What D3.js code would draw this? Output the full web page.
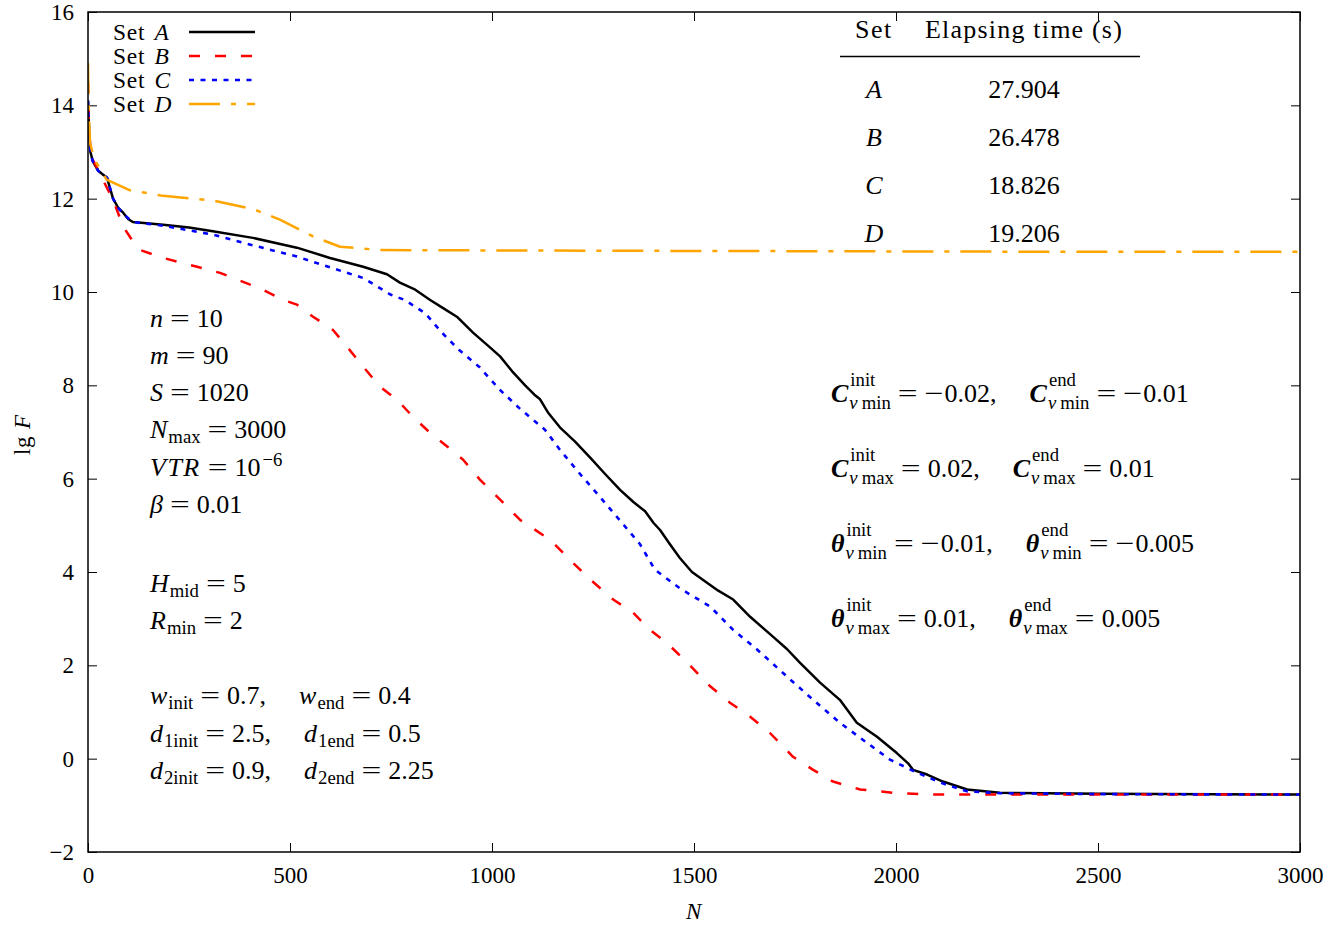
<!DOCTYPE html>
<html>
<head>
<meta charset="utf-8">
<script src="https://cdn.jsdelivr.net/npm/d3@7/dist/d3.min.js"></script>
<style>
  body { margin: 0; background: #fff; }
  text { font-family: "Liberation Serif", "DejaVu Serif", serif; fill: #000; white-space: pre; }
</style>
</head>
<body>
<div id="chart"></div>
<script>
// Series values: [N, lg F]
const setA = [[0,14.1],[3,13.4],[6,13.0],[12,12.8],[25,12.6],[47,12.45],[62,12.0],[75,11.8],[87,11.7],[100,11.56],[111,11.5],
  [186,11.44],[250,11.38],[309,11.3],[408,11.16],[517,10.95],[599,10.73],[681,10.54],[740,10.38],[772,10.2],[810,10.05],
  [847,9.83],[880,9.65],[913,9.47],[953,9.13],[990,8.85],[1020,8.62],[1050,8.3],[1082,8.0],[1105,7.8],[1119,7.7],[1140,7.4],
  [1168,7.1],[1205,6.8],[1243,6.45],[1280,6.1],[1317,5.76],[1350,5.5],[1379,5.3],[1400,5.05],[1416,4.9],[1440,4.6],[1465,4.3],
  [1495,4.0],[1527,3.8],[1560,3.6],[1597,3.41],[1639,3.04],[1696,2.61],[1730,2.35],[1762,2.06],[1812,1.63],[1861,1.26],
  [1903,0.77],[1953,0.47],[2002,0.12],[2030,-0.1],[2042,-0.24],[2077,-0.34],[2116,-0.49],[2176,-0.66],[2257,-0.73],
  [2505,-0.75],[3000,-0.77]];
const setB = [[0,14.5],[2,13.6],[5,13.2],[8,12.9],[20,12.7],[37,12.4],[62,11.98],[87,11.4],[120,10.97],[129,10.9],[186,10.73],
  [270,10.54],[327,10.41],[433,10.05],[483,9.83],[517,9.73],[557,9.47],[606,9.19],[641,8.83],[681,8.4],[723,7.97],[765,7.69],
  [804,7.33],[847,6.98],[889,6.69],[928,6.41],[970,5.98],[1020,5.55],[1069,5.12],[1144,4.69],[1193,4.26],[1243,3.84],
  [1300,3.41],[1349,3.13],[1391,2.76],[1433,2.48],[1483,2.06],[1540,1.55],[1589,1.2],[1639,0.9],[1688,0.55],[1745,0.04],
  [1795,-0.24],[1844,-0.49],[1911,-0.66],[1993,-0.73],[2092,-0.77],[3000,-0.77]];
const setC = [[0,14.1],[3,13.3],[7,12.95],[12,12.8],[25,12.6],[47,12.45],[62,12.0],[75,11.8],[90,11.65],[111,11.5],[186,11.42],
  [309,11.23],[408,11.0],[517,10.76],[616,10.48],[681,10.3],[750,9.94],[784,9.83],[834,9.55],[876,9.13],[918,8.76],[968,8.4],
  [1020,7.9],[1069,7.5],[1131,7.05],[1168,6.62],[1218,6.1],[1268,5.6],[1317,5.1],[1366,4.6],[1403,4.05],[1465,3.65],
  [1540,3.26],[1597,2.76],[1656,2.34],[1730,1.76],[1795,1.26],[1861,0.77],[1928,0.34],[1985,-0.02],[2052,-0.3],[2109,-0.51],
  [2176,-0.7],[2257,-0.74],[2505,-0.76],[3000,-0.77]];
const setD = [[0,14.9],[1,14.2],[3,13.6],[5,13.2],[15,12.85],[46,12.41],[104,12.18],[186,12.06],[309,11.96],[408,11.78],
  [475,11.55],[557,11.19],[624,10.97],[723,10.9],[1000,10.89],[1500,10.88],[2000,10.87],[2500,10.86],[3000,10.86]];

const seriesNames = ["A", "B", "C", "D"];
const seriesData = [setA, setB, setC, setD];
const seriesColors = ["#000000", "#ff0000", "#0000ff", "#ffa500"];
const seriesDash = [null, "11,15", "5,6.5", "31,11,5,11"];
const seriesWidth = [2.5, 2.5, 2.6, 2.5];

const xTicks = [0, 500, 1000, 1500, 2000, 2500, 3000];
const yTicks = [-2, 0, 2, 4, 6, 8, 10, 12, 14, 16];

const tableSets = ["A", "B", "C", "D"];
const tableTimes = ["27.904", "26.478", "18.826", "19.206"];

const W = 1340, H = 926;
const margin = { top: 12, right: 40, bottom: 74, left: 88 };
const width = W - margin.left - margin.right;
const height = H - margin.top - margin.bottom;

const svg = d3.select("#chart").append("svg").attr("width", W).attr("height", H);
const g = svg.append("g").attr("transform", `translate(${margin.left},${margin.top})`);

const x = d3.scaleLinear().domain([0, 3000]).range([0, width]);
const y = d3.scaleLinear().domain([-2, 16]).range([height, 0]);

// Axes, gnuplot style: inward ticks on all four sides
const tickLen = 9;
g.append("g").attr("transform", `translate(0,${height})`)
  .call(d3.axisBottom(x).tickValues(xTicks).tickSize(-tickLen).tickPadding(15).tickFormat(d3.format("d")))
  .call(a => a.select(".domain").remove())
  .selectAll("text").attr("font-size", 23).attr("font-family", null);
g.append("g")
  .call(d3.axisTop(x).tickValues(xTicks).tickSize(-tickLen).tickFormat(""))
  .call(a => a.select(".domain").remove());
g.append("g")
  .call(d3.axisLeft(y).tickValues(yTicks).tickSize(-tickLen).tickPadding(14)
    .tickFormat(d => d < 0 ? "\u2212" + Math.abs(d) : d))
  .call(a => a.select(".domain").remove())
  .selectAll("text").attr("font-size", 23).attr("font-family", null);
g.append("g").attr("transform", `translate(${width},0)`)
  .call(d3.axisRight(y).tickValues(yTicks).tickSize(-tickLen).tickFormat(""))
  .call(a => a.select(".domain").remove());
g.selectAll(".tick line").attr("stroke", "#000").attr("stroke-width", 1);

// Lines
const line = d3.line().x(d => x(d[0])).y(d => y(d[1]));
g.append("defs").append("clipPath").attr("id", "clip")
  .append("rect").attr("width", width).attr("height", height);
seriesData.forEach((data, i) => {
  g.append("path").datum(data)
    .attr("clip-path", "url(#clip)")
    .attr("fill", "none")
    .attr("stroke", seriesColors[i])
    .attr("stroke-width", seriesWidth[i])
    .attr("stroke-dasharray", seriesDash[i])
    .attr("stroke-linejoin", "round")
    .attr("d", line);
});

// Frame
g.append("rect").attr("width", width).attr("height", height)
  .attr("fill", "none").attr("stroke", "#000").attr("stroke-width", 1.5);

// Math-ish text helper: pieces with optional sub/sup, gaps for TeX-like spacing
function mathText(parent, x0, y0, pieces, size) {
  let cx = x0;
  const put = (segs, px, py, fs) => {
    let w = 0;
    segs.forEach(s => {
      if (s.gap) { w += s.gap; return; }
      const sx = s.sx || 1;
      const t = parent.append("text")
        .attr("transform", `translate(${px + w},${py}) scale(${sx},1)`)
        .attr("font-size", fs)
        .attr("font-style", s.i ? "italic" : "normal")
        .attr("font-weight", s.b ? "bold" : "normal")
        .attr("letter-spacing", s.ls || null)
        .text(s.t);
      w += t.node().getComputedTextLength() * sx;
    });
    return w;
  };
  pieces.forEach(p => {
    if (p.gap) { cx += p.gap; return; }
    const w = put([p], cx, y0, size);
    let extra = 0;
    if (p.sub) extra = Math.max(extra, put(p.sub, cx + w + 1, y0 + size * (p.sup ? 0.25 : 0.18), size * 0.72) + 1);
    if (p.sup) extra = Math.max(extra, put(p.sup, cx + w + 2, y0 - size * (p.sub ? 0.62 : 0.4), size * 0.72) + 2);
    cx += w + extra;
  });
  return cx;
}
const R = t => ({ t });
const I = t => ({ t, i: true });
const AS = 26;
// " = value" with TeX relation spacing (wide "=" and minus)
const EQ = v => {
  const out = [{ gap: 7 }, { t: "=", sx: 1.35 }, { gap: 7 }];
  if (v.startsWith("-")) { out.push({ t: "\u2212", sx: 1.3 }, { gap: 1 }); v = v.slice(1); }
  if (v) out.push(R(v));
  return out;
};

// Legend
const legend = svg.append("g");
seriesNames.forEach((name, i) => {
  const ly = 32 + i * 24;
  mathText(legend, 113, ly + 8, [{ t: "Set", ls: 0.8 }, { gap: 9 }, I(name)], 23.5);
  legend.append("line").attr("x1", 189).attr("x2", 255).attr("y1", ly).attr("y2", ly)
    .attr("stroke", seriesColors[i]).attr("stroke-width", seriesWidth[i])
    .attr("stroke-dasharray", seriesDash[i]);
});

// Table of elapsed times
const table = svg.append("g");
table.append("text").attr("x", 855).attr("y", 38).attr("font-size", 26).attr("letter-spacing", 1.5).text("Set");
table.append("text").attr("x", 925).attr("y", 38).attr("font-size", 26).attr("letter-spacing", 1.2).text("Elapsing time (s)");
table.append("line").attr("x1", 840).attr("x2", 1140).attr("y1", 56.5).attr("y2", 56.5)
  .attr("stroke", "#000").attr("stroke-width", 1.3);
tableSets.forEach((s, i) => {
  const by = 98 + i * 48;
  table.append("text").attr("x", 874).attr("y", by).attr("font-size", 26)
    .attr("font-style", "italic").attr("text-anchor", "middle").text(s);
  table.append("text").attr("x", 1024).attr("y", by).attr("font-size", 26)
    .attr("text-anchor", "middle").text(tableTimes[i]);
});

// Left parameter block
const ann = svg.append("g");
const lx = 150;
const sub = t => [{ t }];
const Q = { gap: 33 };
mathText(ann, lx, 327, [I("n"), ...EQ("10")], AS);
mathText(ann, lx, 364, [I("m"), ...EQ("90")], AS);
mathText(ann, lx, 401, [I("S"), ...EQ("1020")], AS);
mathText(ann, lx, 438, [{ t: "N", i: true, sub: sub("max") }, ...EQ("3000")], AS);
mathText(ann, lx, 476, [{ t: "VTR", i: true, ls: 1.5 }, ...EQ(""), { t: "10", sup: sub("\u22126") }], AS);
mathText(ann, lx, 513, [I("\u03b2"), ...EQ("0.01")], AS);
mathText(ann, lx, 592, [{ t: "H", i: true, sub: sub("mid") }, ...EQ("5")], AS);
mathText(ann, lx, 629, [{ t: "R", i: true, sub: sub("min") }, ...EQ("2")], AS);
mathText(ann, lx, 704, [{ t: "w", i: true, sub: sub("init") }, ...EQ("0.7,"), Q,
  { t: "w", i: true, sub: sub("end") }, ...EQ("0.4")], AS);
mathText(ann, lx, 742, [{ t: "d", i: true, sub: sub("1init") }, ...EQ("2.5,"), Q,
  { t: "d", i: true, sub: sub("1end") }, ...EQ("0.5")], AS);
mathText(ann, lx, 779, [{ t: "d", i: true, sub: sub("2init") }, ...EQ("0.9,"), Q,
  { t: "d", i: true, sub: sub("2end") }, ...EQ("2.25")], AS);

// Right parameter block
const rx = 831;
const vsub = w => [{ t: "v", i: true }, { gap: 4 }, { t: w }];
const bold = (t, w, s) => ({ t, i: true, b: true, sub: vsub(w), sup: [{ t: s }] });
mathText(ann, rx, 402, [bold("C", "min", "init"), ...EQ("-0.02,"), Q, bold("C", "min", "end"), ...EQ("-0.01")], AS);
mathText(ann, rx, 477, [bold("C", "max", "init"), ...EQ("0.02,"), Q, bold("C", "max", "end"), ...EQ("0.01")], AS);
mathText(ann, rx, 552, [bold("\u03b8", "min", "init"), ...EQ("-0.01,"), Q, bold("\u03b8", "min", "end"), ...EQ("-0.005")], AS);
mathText(ann, rx, 627, [bold("\u03b8", "max", "init"), ...EQ("0.01,"), Q, bold("\u03b8", "max", "end"), ...EQ("0.005")], AS);

// Axis titles
mathText(svg.append("g"), 686, 919, [I("N")], 23);
const yl = svg.append("g").attr("transform", "translate(30,455) rotate(-90)");
mathText(yl, 0, 0, [{ t: "lg", ls: 0.5 }, { gap: 7 }, I("F")], 23);
</script>
</body>
</html>
